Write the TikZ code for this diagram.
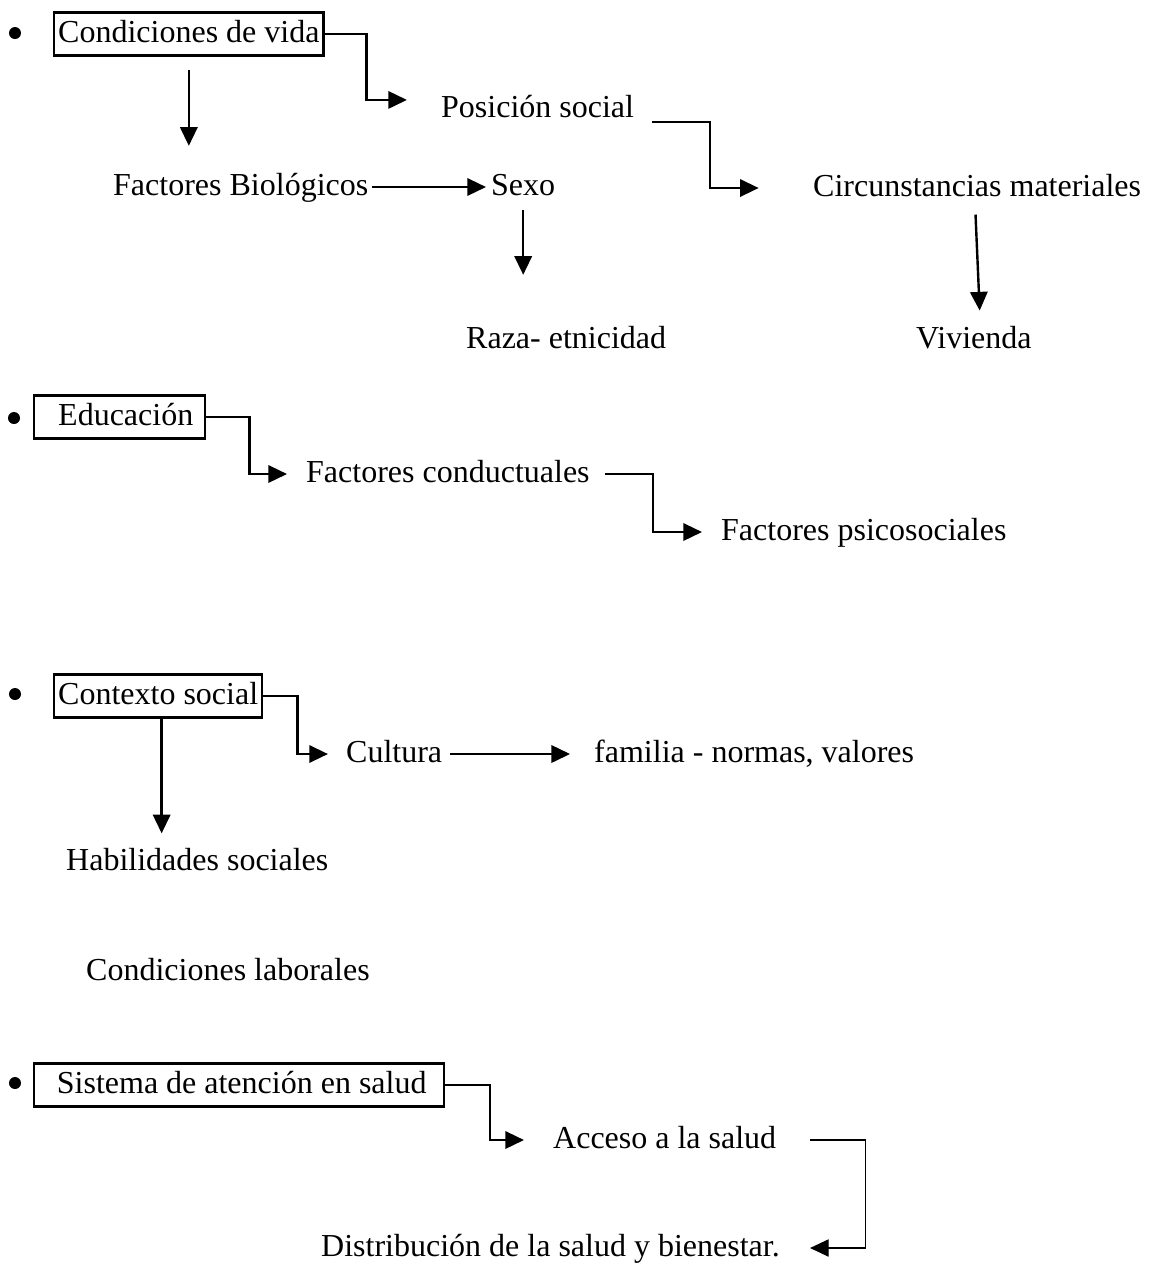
\documentclass[tikz,border=0pt]{standalone}
\usepackage{fontspec}
\setmainfont{Liberation Serif}
\usetikzlibrary{arrows.meta}
\tikzset{>={Triangle[length=7pt,width=6.5pt]}}

\begin{document}
\begin{tikzpicture}[x=0.375pt, y=-0.375pt, line width=0.9pt,
    every node/.style={inner sep=0pt, anchor=base west, font=\fontsize{12}{14}\selectfont, text height=8pt, text depth=2pt},
    box/.style={draw, line width=0.9pt, inner xsep=1.5pt, inner ysep=3pt},
    dot/.style={circle, fill, anchor=center, text height=0pt, text depth=0pt, minimum size=4.5pt}]
    \useasboundingbox (0,0) rectangle (1155,1266);

    % Nodes
    \node[dot] (b1) at (15,33) {};
    \node[box] (cv) at (53,42) {Condiciones de vida};
    \node (ps) at (440,117) {Posición social};
    \node (fb) at (112,195) {Factores Biológicos};
    \node (sexo) at (490,195) {Sexo};
    \node (raza) at (465,348) {Raza- etnicidad};
    \node (cm) at (812,196) {Circunstancias materiales};
    \node (viv) at (915,348) {Vivienda};

    \node[dot] (b2) at (14,418) {};
    \node[box] (edu) at (33,425) {\hspace*{7.5pt}Educación\hspace*{3pt}};
    \node (fc) at (305,482) {Factores conductuales};
    \node (fp) at (720,540) {Factores psicosociales};

    \node[dot] (b3) at (15,694) {};
    \node[box] (cs) at (53,704) {Contexto social};
    \node (cult) at (345,762) {Cultura};
    \node (fam) at (593,762) {familia - normas, valores};
    \node (hab) at (65,870) {Habilidades sociales};
    \node (cl) at (85,980) {Condiciones laborales};

    \node[dot] (b4) at (15,1083) {};
    \node[box] (sis) at (33,1093) {\hspace*{7pt}Sistema de atención en salud\hspace*{5pt}};
    \node (acc) at (552,1148) {Acceso a la salud};
    \node (dist) at (320,1256) {Distribución de la salud y bienestar.};

    % Arrows
    \draw[->, shorten >=12.4pt] (cv.east) -- ++(42,0) |- ([yshift=3.4pt]ps.west);
    \draw[->, shorten <=4.9pt, shorten >=10pt] (cv.south) -- (cv.south |- fb.north);
    \draw[->, shorten <=1pt, shorten >=1.5pt] (fb.east) -- (sexo.west);
    \draw[->, shorten <=3pt, shorten >=19pt] (sexo.south) -- (sexo.south |- raza.north);
    \draw[->, shorten <=6.4pt, shorten >=20pt] ([yshift=-4.9pt]ps.east) -- ++(75,0) |- (cm.west);
    \draw[->, shorten <=4.5pt, shorten >=5.6pt] ([xshift=-0.8pt]cm.south) -- ([xshift=1.2pt]cm.south |- viv.north);

    \draw[->, shorten >=6.75pt] (edu.east) -- ++(43,0) |- (fc.west);
    \draw[->, shorten <=5.25pt, shorten >=6.75pt] (fc.east) -- ++(62,0) |- (fp.west);

    \draw[->, shorten >=6.4pt] (cs.east) -- ++(34,0) |- (cult.west);
    \draw[->, shorten <=2.6pt, shorten >=8.6pt] (cult.east) -- (fam.west);
    \draw[->, shorten >=5.3pt] ([xshift=1.3pt]cs.south) -- ([xshift=1.3pt]cs.south |- hab.north);

    \draw[->, shorten >=10.5pt] (sis.east) -- ++(45,0) |- (acc.west);
    \draw[->, line width=0.45pt, shorten <=12.4pt, shorten >=10.9pt] (acc.east) -- ++(88,0) |- (dist.east);
\end{tikzpicture}
\end{document}
